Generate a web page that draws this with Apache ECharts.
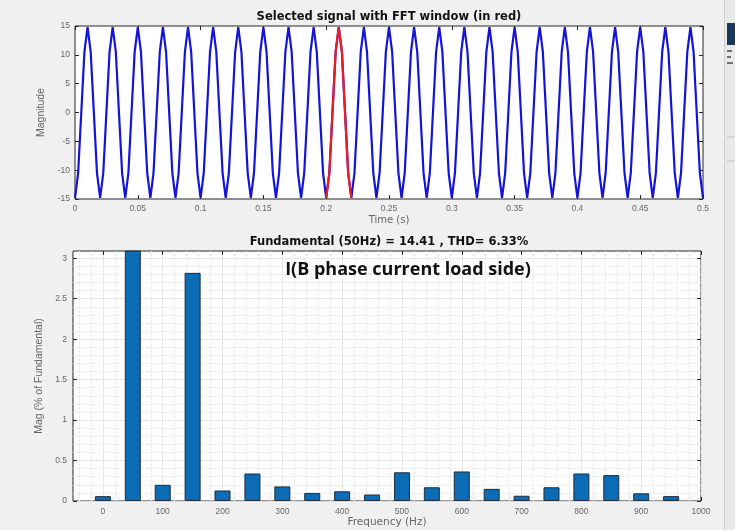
<!DOCTYPE html>
<html>
<head>
<meta charset="utf-8">
<script src="https://cdn.jsdelivr.net/npm/echarts@6/dist/echarts.min.js"></script>
<style>
  html, body { margin: 0; padding: 0; background: #f0f0f0; }
  #chart { width: 735px; height: 530px; }
</style>
</head>
<body>
<div id="chart"></div>
<script>
// Phase-B load current, one sample every 2.5 ms from 0 to 0.5 s
const sampleStep = 0.0025;
const signalA = [
  -14.8, -10.5, 0, 10.5, 14.8, 10.5, 0, -10.5,
  -14.8, -10.5, 0, 10.5, 14.8, 10.5, 0, -10.5,
  -14.8, -10.5, 0, 10.5, 14.8, 10.5, 0, -10.5,
  -14.8, -10.5, 0, 10.5, 14.8, 10.5, 0, -10.5,
  -14.8, -10.5, 0, 10.5, 14.8, 10.5, 0, -10.5,
  -14.8, -10.5, 0, 10.5, 14.8, 10.5, 0, -10.5,
  -14.8, -10.5, 0, 10.5, 14.8, 10.5, 0, -10.5,
  -14.8, -10.5, 0, 10.5, 14.8, 10.5, 0, -10.5,
  -14.8, -10.5, 0, 10.5, 14.8, 10.5, 0, -10.5,
  -14.8, -10.5, 0, 10.5, 14.8, 10.5, 0, -10.5,
  -14.8, -10.5, 0, 10.5, 14.8, 10.5, 0, -10.5,
  -14.8, -10.5, 0, 10.5, 14.8, 10.5, 0, -10.5,
  -14.8, -10.5, 0, 10.5, 14.8, 10.5, 0, -10.5,
  -14.8, -10.5, 0, 10.5, 14.8, 10.5, 0, -10.5,
  -14.8, -10.5, 0, 10.5, 14.8, 10.5, 0, -10.5,
  -14.8, -10.5, 0, 10.5, 14.8, 10.5, 0, -10.5,
  -14.8, -10.5, 0, 10.5, 14.8, 10.5, 0, -10.5,
  -14.8, -10.5, 0, 10.5, 14.8, 10.5, 0, -10.5,
  -14.8, -10.5, 0, 10.5, 14.8, 10.5, 0, -10.5,
  -14.8, -10.5, 0, 10.5, 14.8, 10.5, 0, -10.5,
  -14.8, -10.5, 0, 10.5, 14.8, 10.5, 0, -10.5,
  -14.8, -10.5, 0, 10.5, 14.8, 10.5, 0, -10.5,
  -14.8, -10.5, 0, 10.5, 14.8, 10.5, 0, -10.5,
  -14.8, -10.5, 0, 10.5, 14.8, 10.5, 0, -10.5,
  -14.8, -10.5, 0, 10.5, 14.8, 10.5, 0, -10.5,
  -14.8
];
// FFT analysis window (s)
const fftWindowStart = 0.2;
const fftWindowEnd = 0.22;

// Harmonic spectrum, magnitude in % of the fundamental
const harmonicHz = [0, 50, 100, 150, 200, 250, 300, 350, 400, 450,
                    500, 550, 600, 650, 700, 750, 800, 850, 900, 950];
const magPctFund = [0.06, 100, 0.20, 2.82, 0.13, 0.34, 0.18, 0.10, 0.12, 0.08,
                    0.355, 0.17, 0.365, 0.15, 0.065, 0.17, 0.34, 0.32, 0.095, 0.06];

// Tick values
const freqTicks = [0, 100, 200, 300, 400, 500, 600, 700, 800, 900, 1000];
const magTicks = [0, 0.5, 1, 1.5, 2, 2.5, 3];

const titleTop = 'Selected signal with FFT window (in red)';
const titleBottom = 'Fundamental (50Hz) = 14.41 , THD= 6.33%';
const plotNote = 'I(B phase current load side)';

const signalPts = signalA.map((v, i) => [+(i * sampleStep).toFixed(4), v]);
const windowPts = signalPts.filter(p => p[0] >= fftWindowStart - 1e-9 && p[0] <= fftWindowEnd + 1e-9);

// minor grid positions for the spectrum axes
const freqMinor = [];
for (let f = -40; f <= 1000; f += 20) freqMinor.push(f);
const magMinor = [];
for (let k = 1; k <= 30; k++) magMinor.push(+(k * 0.1).toFixed(1));

const axisCol = '#262626';
const labelCol = '#666666';
const FONT = 'Liberation Sans, Arial, sans-serif';
const WIDE = 'DejaVu Sans, sans-serif';
const plainNum = (v) => String(+v.toFixed(4));

const tickOnly = (extra) => Object.assign({
  axisLine: { show: false, onZero: false },
  axisLabel: { show: false },
  axisTick: { show: true, inside: true, length: 4, lineStyle: { color: axisCol } },
  splitLine: { show: false }
}, extra);

const chart = echarts.init(document.getElementById('chart'));
chart.setOption({
  backgroundColor: '#f0f0f0',
  animation: false,
  grid: [
    { left: 75, top: 26, width: 628, height: 173, show: true, backgroundColor: '#ffffff', borderColor: axisCol, borderWidth: 1 },
    { left: 73, top: 251, width: 628, height: 250, show: true, backgroundColor: '#ffffff', borderColor: axisCol, borderWidth: 1 }
  ],
  xAxis: [
    {
      type: 'value', gridIndex: 0, position: 'bottom', min: 0, max: 0.5, interval: 0.05,
      name: 'Time (s)', nameLocation: 'middle', nameGap: 16,
      nameTextStyle: { color: labelCol, fontSize: 10, fontFamily: WIDE },
      axisLine: { show: false, onZero: false },
      axisTick: { show: true, inside: true, length: 4, lineStyle: { color: axisCol } },
      axisLabel: { color: labelCol, fontSize: 8.5, fontFamily: FONT, margin: 5, formatter: plainNum },
      splitLine: { show: false }
    },
    tickOnly({ type: 'value', gridIndex: 0, position: 'top', min: 0, max: 0.5, interval: 0.05 }),
    {
      type: 'value', gridIndex: 1, position: 'bottom', min: -50, max: 1000,
      name: 'Frequency (Hz)', nameLocation: 'middle', nameGap: 16,
      nameTextStyle: { color: labelCol, fontSize: 10.5, fontFamily: WIDE },
      axisLine: { show: false, onZero: false },
      axisTick: { show: true, inside: true, length: 4, customValues: freqTicks, lineStyle: { color: axisCol } },
      axisLabel: { color: labelCol, fontSize: 8.5, fontFamily: FONT, margin: 6, customValues: freqTicks, formatter: plainNum },
      splitLine: { show: true, lineStyle: { color: '#dcdcdc', width: 1 } }
    },
    tickOnly({ type: 'value', gridIndex: 1, position: 'top', min: -50, max: 1000,
      axisTick: { show: true, inside: true, length: 4, customValues: freqTicks, lineStyle: { color: axisCol } } }),
    {
      type: 'value', gridIndex: 1, position: 'bottom', min: -50, max: 1000,
      axisLine: { show: false, onZero: false }, axisLabel: { show: false },
      axisTick: { show: false, customValues: freqMinor },
      splitLine: { show: true, lineStyle: { color: '#ebebeb', width: 1, type: [2, 1] } }
    }
  ],
  yAxis: [
    {
      type: 'value', gridIndex: 0, position: 'left', min: -15, max: 15, interval: 5,
      name: 'Magnitude', nameLocation: 'middle', nameGap: 28,
      nameTextStyle: { color: labelCol, fontSize: 10.5, fontFamily: FONT },
      axisLine: { show: false, onZero: false },
      axisTick: { show: true, inside: true, length: 4, lineStyle: { color: axisCol } },
      axisLabel: { color: labelCol, fontSize: 8.5, fontFamily: FONT, margin: 5 },
      splitLine: { show: false }
    },
    tickOnly({ type: 'value', gridIndex: 0, position: 'right', min: -15, max: 15, interval: 5 }),
    {
      type: 'value', gridIndex: 1, position: 'left', min: 0, max: 3.09,
      name: 'Mag (% of Fundamental)', nameLocation: 'middle', nameGap: 28,
      nameTextStyle: { color: labelCol, fontSize: 10.5, fontFamily: FONT },
      axisLine: { show: false, onZero: false },
      axisTick: { show: true, inside: true, length: 4, customValues: magTicks, lineStyle: { color: axisCol } },
      axisLabel: { color: labelCol, fontSize: 8.5, fontFamily: FONT, margin: 6, customValues: magTicks, formatter: plainNum },
      splitLine: { show: true, lineStyle: { color: '#dcdcdc', width: 1 } }
    },
    tickOnly({ type: 'value', gridIndex: 1, position: 'right', min: 0, max: 3.09,
      axisTick: { show: true, inside: true, length: 4, customValues: magTicks, lineStyle: { color: axisCol } } }),
    {
      type: 'value', gridIndex: 1, position: 'left', min: 0, max: 3.09,
      axisLine: { show: false, onZero: false }, axisLabel: { show: false },
      axisTick: { show: false, customValues: magMinor },
      splitLine: { show: true, lineStyle: { color: '#ebebeb', width: 1, type: [2, 1] } }
    }
  ],
  series: [
    {
      type: 'line', xAxisIndex: 0, yAxisIndex: 0, data: signalPts,
      showSymbol: false, symbol: 'none',
      lineStyle: { color: '#1414d8', width: 2.2 }, z: 3
    },
    {
      type: 'line', xAxisIndex: 0, yAxisIndex: 0, data: windowPts,
      showSymbol: false, symbol: 'none',
      lineStyle: { color: '#ec1c24', width: 2.2 }, z: 4
    },
    {
      type: 'bar', xAxisIndex: 2, yAxisIndex: 2,
      data: harmonicHz.map((f, i) => [f, magPctFund[i]]),
      barWidth: 16, clip: true,
      itemStyle: { color: '#0b6bb5', borderColor: '#1d2d3d', borderWidth: 1 },
      z: 3
    }
  ],
  graphic: [
    { type: 'text', x: 389, y: 17, style: { text: titleTop, fontSize: 11.5, fontWeight: 'bold', fontFamily: WIDE, fill: '#111', textAlign: 'center', textVerticalAlign: 'middle' } },
    { type: 'text', x: 389, y: 242, style: { text: titleBottom, fontSize: 11.5, fontWeight: 'bold', fontFamily: WIDE, fill: '#111', textAlign: 'center', textVerticalAlign: 'middle' } },
    { type: 'text', x: 408, y: 270, z: 10, style: { text: plotNote, fontSize: 18, fontWeight: 'bold', fontFamily: 'Open Sans, sans-serif', fill: '#111', textAlign: 'center', textVerticalAlign: 'middle' } },
    // side panel edge of the analysis window
    { type: 'rect', shape: { x: 724, y: 0, width: 11, height: 530 }, style: { fill: '#e9e9e9' } },
    { type: 'line', shape: { x1: 724.5, y1: 0, x2: 724.5, y2: 530 }, style: { stroke: '#cfcfcf', lineWidth: 1 } },
    { type: 'rect', shape: { x: 727, y: 23, width: 8, height: 22 }, style: { fill: '#17395c' } },
    { type: 'rect', shape: { x: 727, y: 50, width: 5, height: 2 }, style: { fill: '#6f6f6f' } },
    { type: 'rect', shape: { x: 727, y: 56, width: 4, height: 2 }, style: { fill: '#6f6f6f' } },
    { type: 'rect', shape: { x: 727, y: 62, width: 6, height: 2 }, style: { fill: '#6f6f6f' } },
    { type: 'line', shape: { x1: 727, y1: 137, x2: 735, y2: 137 }, style: { stroke: '#bdbdbd', lineWidth: 1 } },
    { type: 'line', shape: { x1: 727, y1: 161, x2: 735, y2: 161 }, style: { stroke: '#bdbdbd', lineWidth: 1 } }
  ]
});
</script>
</body>
</html>
